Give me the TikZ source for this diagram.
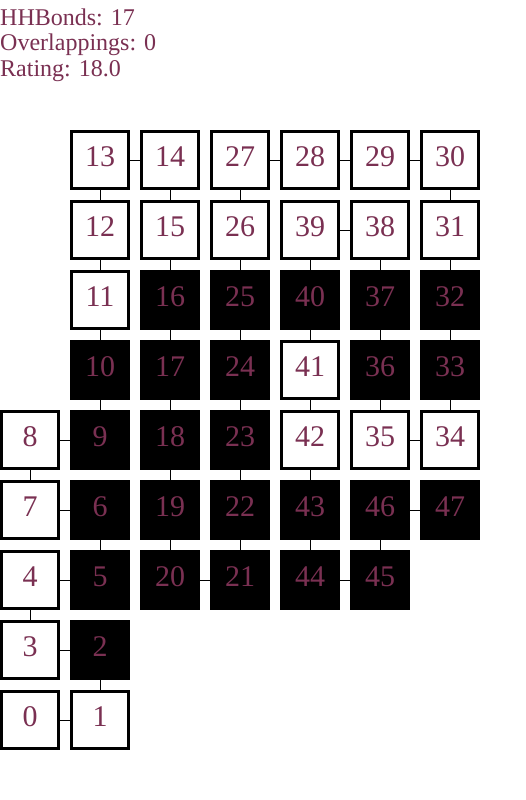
\documentclass[tikz,border=0pt]{standalone}
\usepackage{fontspec}
\setmainfont{Liberation Serif}
\definecolor{lbl}{RGB}{122,48,82}
\begin{document}
\begin{tikzpicture}[x=1pt,y=-1pt,
  cell/.style={rectangle,draw=black,line width=3pt,minimum size=57pt,inner sep=0pt,
    text=lbl,font=\fontsize{30}{36}\selectfont,text height=20pt,text depth=7pt},
  hcell/.style={cell,fill=black},
  pcell/.style={cell,fill=white},
  bond/.style={draw=black,line width=1pt},
  info/.style={anchor=base west,inner sep=0pt,text=lbl,font=\fontsize{24}{25}\selectfont}]
\useasboundingbox (0,0) rectangle (525,800);
\fill[white] (0,0) rectangle (525,800);
\node[info] (h1) at (0,26) {HHBonds: 17};
\node[info] (h2) at (0,51) {Overlappings: 0};
\node[info] (h3) at (0,76) {Rating: 18.0};
\foreach \i/\c/\r/\t in {0/0/8/p,1/1/8/p,2/1/7/h,3/0/7/p,4/0/6/p,5/1/6/h,6/1/5/h,7/0/5/p,
  8/0/4/p,9/1/4/h,10/1/3/h,11/1/2/p,12/1/1/p,13/1/0/p,14/2/0/p,15/2/1/p,16/2/2/h,17/2/3/h,
  18/2/4/h,19/2/5/h,20/2/6/h,21/3/6/h,22/3/5/h,23/3/4/h,24/3/3/h,25/3/2/h,26/3/1/p,27/3/0/p,
  28/4/0/p,29/5/0/p,30/6/0/p,31/6/1/p,32/6/2/h,33/6/3/h,34/6/4/p,35/5/4/p,36/5/3/h,37/5/2/h,
  38/5/1/p,39/4/1/p,40/4/2/h,41/4/3/p,42/4/4/p,43/4/5/h,44/4/6/h,45/5/6/h,46/5/5/h,47/6/5/h}
  \coordinate (c\i) at ({30+70*\c},{160+70*\r});
\foreach \i [evaluate=\i as \j using int(\i+1)] in {0,...,46}
  \draw[bond] (c\i) -- (c\j);
\foreach \i/\t in {0/p,1/p,2/h,3/p,4/p,5/h,6/h,7/p,8/p,9/h,10/h,11/p,12/p,13/p,14/p,15/p,
  16/h,17/h,18/h,19/h,20/h,21/h,22/h,23/h,24/h,25/h,26/p,27/p,28/p,29/p,30/p,31/p,32/h,33/h,
  34/p,35/p,36/h,37/h,38/p,39/p,40/h,41/p,42/p,43/h,44/h,45/h,46/h,47/h}
  \node[\t cell] (n\i) at (c\i) {\i};
\end{tikzpicture}
\end{document}
